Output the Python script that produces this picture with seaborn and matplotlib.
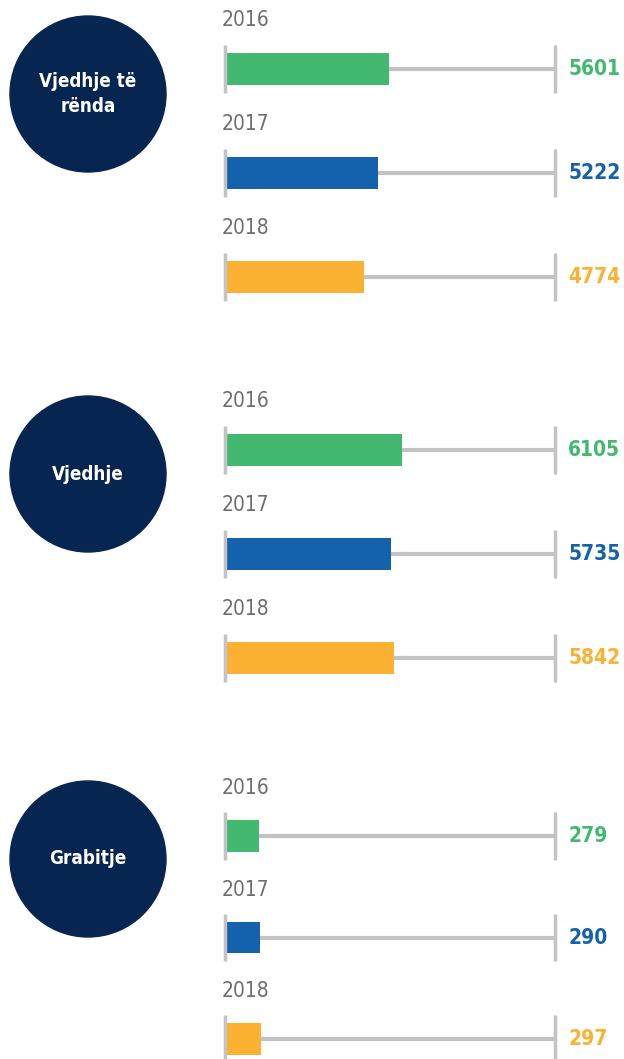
import matplotlib
matplotlib.use('Agg')
import matplotlib.pyplot as plt
from matplotlib.patches import Circle
import seaborn as sns

# data
categories = ['Vjedhje të\nrënda', 'Vjedhje', 'Grabitje']
years = ['2016', '2017', '2018']
vjedhje_te_renda = [5601, 5222, 4774]
vjedhje = [6105, 5735, 5842]
grabitje = [279, 290, 297]
group_values = [vjedhje_te_renda, vjedhje, grabitje]
axis_max = [11300, 11400, 2700]

# colours
year_colors = ['#42b96f', '#1461ad', '#fbb131']
navy = '#062550'
track_gray = '#c3c3c5'
year_gray = '#6e6e70'

sns.set_theme(style='white')
plt.rcParams['font.family'] = ['DejaVu Sans']
plt.rcParams['font.stretch'] = 'condensed'

W, H = 624, 1059
fig = plt.figure(figsize=(W / 100, H / 100), dpi=100)

# background axes in pixel units for the circles
bg = fig.add_axes([0, 0, 1, 1])
bg.set_xlim(0, W)
bg.set_ylim(H, 0)
bg.axis('off')

# layout (pixels)
first_bar_y = [69, 450, 836]
spacing = [104, 104, 101.5]
circle_y = [94, 474, 859]
circle_x, circle_r = 88, 78
bar_left, bar_right = 225, 555

for g in range(3):
    values = group_values[g]
    xmax = axis_max[g]
    top = first_bar_y[g] - spacing[g] / 2
    height = 3 * spacing[g]
    ax = fig.add_axes([bar_left / W, 1 - (top + height) / H,
                       (bar_right - bar_left) / W, height / H])
    ax.patch.set_visible(False)

    sns.barplot(x=values, y=years, hue=years, palette=year_colors, orient='h',
                width=0.31, saturation=1, linewidth=0, legend=False, ax=ax)

    # gray track and end ticks
    ax.hlines(range(3), 0, xmax, color=track_gray, lw=3, zorder=0.5)
    for i in range(3):
        ax.vlines([0, xmax], i - 0.235, i + 0.235, color=track_gray, lw=2.5,
                  zorder=3, clip_on=False)
        ax.text(-0.01 * xmax, i - 0.47, years[i], ha='left', va='center',
                fontsize=15, color=year_gray, clip_on=False)
        ax.text(xmax * 1.04, i, f'{values[i]}', ha='left', va='center',
                fontsize=15, fontweight='bold', color=year_colors[i], clip_on=False)

    ax.set_xlim(0, xmax)
    ax.set_ylim(2.5, -0.5)
    ax.axis('off')

    # category circle
    bg.add_patch(Circle((circle_x, circle_y[g]), circle_r, color=navy))
    bg.text(circle_x, circle_y[g], categories[g], ha='center', va='center',
            color='white', fontsize=13.5, fontweight='bold', linespacing=1.45)

fig.savefig('out.png', dpi=100)
